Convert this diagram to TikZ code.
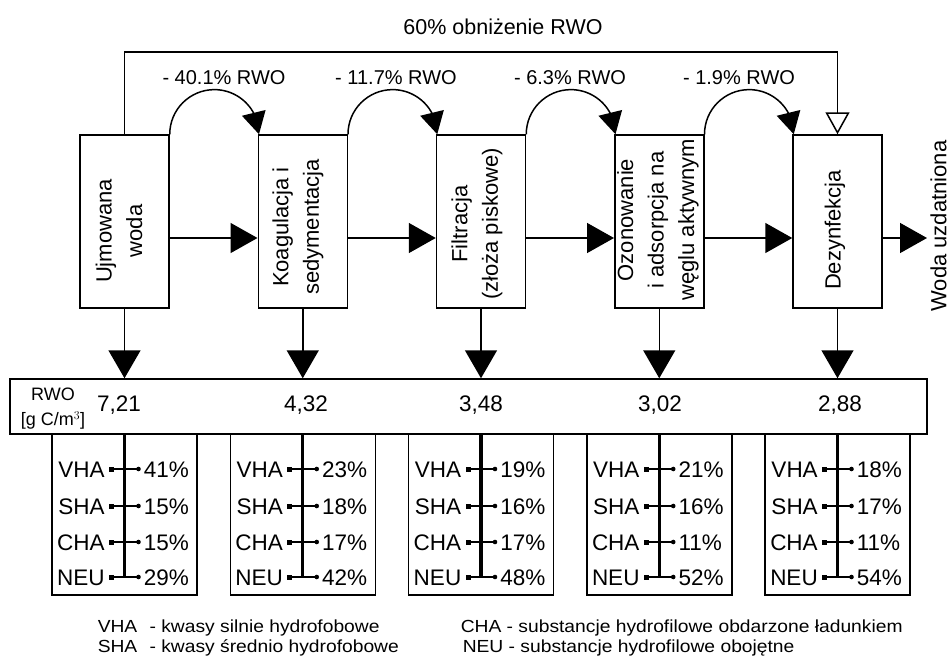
\documentclass[tikz,border=0pt]{standalone}
\usepackage{fontspec}
\setmainfont{Liberation Sans}
\newfontfamily\legfont[FakeStretch=1.1]{Liberation Sans}
\usetikzlibrary{arrows.meta,bending}
\begin{document}
\begin{tikzpicture}[x=1pt,y=-1pt,line width=1.5pt,
  box/.style={draw,minimum width=89pt,minimum height=173pt,inner sep=0pt},
  boxtxt/.style={rotate=90,align=center,inner sep=0pt,font=\fontsize{22}{30.5}\selectfont},
  panel/.style={draw,minimum width=145pt,minimum height=161pt,inner sep=0pt},
  rwobox/.style={draw,minimum width=917pt,minimum height=55pt,inner sep=0pt},
  lab/.style={inner sep=0pt,font=\fontsize{22.5}{26}\selectfont},
  looplab/.style={inner sep=0pt,font=\fontsize{20}{24}\selectfont},
  legend/.style={inner sep=0pt,anchor=base west,font=\legfont\fontsize{17.5}{20}\selectfont},
  bigarrow/.style={-{Triangle[length=27pt,width=30pt]}},
  downarrow/.style={-{Triangle[length=28pt,width=32pt]}},
  looparrow/.style={-{Triangle[length=22pt,width=24pt]}},
  openarrow/.style={-{Triangle[open,length=22pt,width=24pt,fill=white]}},
  spine/.style={line width=3.2pt},
  tick/.style={line width=1.5pt}
]
\useasboundingbox (0,0) rectangle (951,659);

% process boxes
\foreach \i in {1,...,5}{
  \pgfmathsetmacro{\cx}{124.5+178.25*(\i-1)}
  \node[box] (b\i) at (\cx,221.5) {};
}
\node[boxtxt] (t1) at (119,231) {Ujmowana\\woda};
\node[boxtxt] (t2) at (298,227) {Koagulacja i\\sedymentacja};
\node[boxtxt] (t3) at (477,224) {Filtracja\\(złoża piskowe)};
\node[boxtxt] (t4) at (658,220) {Ozonowanie\\i adsorpcja na\\węglu aktywnym};
\node[boxtxt] (t5) at (835,230) {Dezynfekcja};

% horizontal flow
\foreach \i/\j in {1/2,2/3,3/4,4/5}{
  \draw[bigarrow] ([yshift=-16.5pt]b\i.east) -- ([yshift=-16.5pt]b\j.west);
}
\coordinate (out) at (927,238);
\draw[bigarrow] ([yshift=-16.5pt]b5.east) -- (out);
\node[boxtxt] (wu) at (938.5,226) {Woda uzdatniona};

% loops
\foreach \i/\j in {1/2,2/3,3/4,4/5}{
  \draw[looparrow] (b\i.north east) arc[start angle=180,end angle=0,radius=44.625pt];
}
\node[looplab] (l1) at (224,78) {- 40.1\% RWO};
\node[looplab] (l2) at (396,78) {- 11.7\% RWO};
\node[looplab] (l3) at (570,78) {- 6.3\% RWO};
\node[looplab] (l4) at (739,78) {- 1.9\% RWO};

% overall bypass
\coordinate (top) at (0,52);
\draw[openarrow] (b1.north) -- (b1.north |- top) -- (b5.north |- top) -- (b5.north);
\node[lab,font=\fontsize{21.5}{26}\selectfont] (title) at (503,27) {60\% obniżenie RWO};

% RWO bar
\node[rwobox] (rwo) at (468.5,406.5) {};
\node[inner sep=0pt,align=center,font=\fontsize{18}{25}\selectfont] (unit) at (53,409) {RWO\\{}[g C/m$^{3}$]};
\foreach \i in {1,...,5}{
  \draw[downarrow] (b\i.south) -- (b\i.south |- rwo.north);
}
\node[lab] (v1) at (119,405) {7,21};
\node[lab] (v2) at (306,405) {4,32};
\node[lab] (v3) at (481,405) {3,48};
\node[lab] (v4) at (660,405) {3,02};
\node[lab] (v5) at (840,405) {2,88};

% panels
\foreach \i/\a/\b/\c/\d in {1/41/15/15/29,2/23/18/17/42,3/19/16/17/48,4/21/16/11/52,5/18/17/11/54}{
  \pgfmathsetmacro{\cx}{124.5+178.25*(\i-1)}
  \node[panel] (p\i) at (\cx,514.5) {};
  \draw[spine] (p\i.north) -- (\cx,578);
  \foreach \r/\name/\val in {469/VHA/\a,506/SHA/\b,542/CHA/\c,577/NEU/\d}{
    \draw[tick] (\cx-13,\r) -- (\cx+14,\r);
    \fill (\cx-15.5,\r-2.5) rectangle (\cx-10.5,\r+2.5);
    \fill (\cx+14,\r) circle (2.3pt);
    \node[lab,anchor=base east] at (\cx-19,\r+8) {\name};
    \node[lab,anchor=base west] at (\cx+18.5,\r+8) {\val\%};
  }
}

% legend
\node[legend] (lg1) at (97,632) {VHA\hspace{0.7em}- kwasy silnie hydrofobowe};
\node[legend] (lg2) at (97,652) {SHA\hspace{0.7em}- kwasy średnio hydrofobowe};
\node[legend] (lg3) at (460,632) {CHA - substancje hydrofilowe obdarzone ładunkiem};
\node[legend] (lg4) at (462,652) {NEU - substancje hydrofilowe obojętne};
\end{tikzpicture}
\end{document}
